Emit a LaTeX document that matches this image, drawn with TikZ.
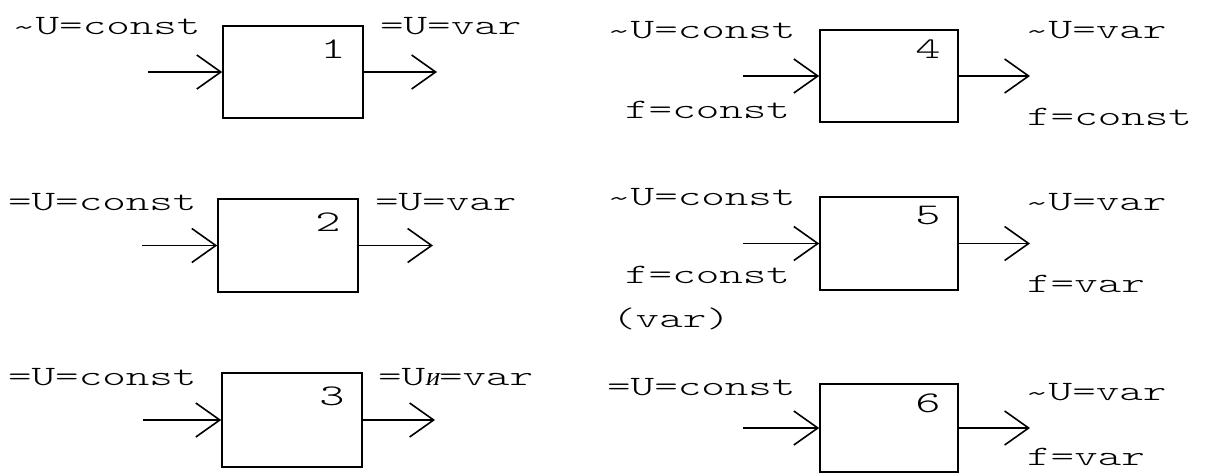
\documentclass[tikz,border=0pt]{standalone}
\usepackage{fontspec}
\newfontfamily\monofont[FakeStretch=1.6]{Latin Modern Mono Light}
\newfontfamily\cyrfont[FakeSlant=0.2]{Liberation Serif}
\newcommand{\mytilde}{\raisebox{-2pt}{\textasciitilde}}
\usetikzlibrary{arrows.meta}
\begin{document}
\begin{tikzpicture}[x=1pt,y=-1pt,
  blk/.style={draw,line width=1.6pt,minimum width=140pt,minimum height=92pt,inner sep=0pt},
  blkr/.style={blk,minimum width=138pt},
  lbl/.style={anchor=base west,inner sep=0pt,font=\monofont\fontsize{28}{28}\selectfont},
  num/.style={anchor=north east,inner sep=0pt,font=\monofont\fontsize{30}{30}\selectfont},
  conn/.style={line width=1.6pt,-{Straight Barb[length=24pt,width=34pt,line width=1.6pt]}}]
\useasboundingbox (0,0) rectangle (1206,474);
% left column
\node[blk] (b1) at (293,72) {};
\node[blk,minimum height=93pt] (b2) at (288,245.5) {};
\node[blk,minimum height=94pt] (b3) at (292,420) {};
% right column
\node[blkr] (b4) at (889,76) {};
\node[blkr,minimum height=93pt] (b5) at (889,243.5) {};
\node[blkr,minimum height=88pt] (b6) at (889,428) {};
% digits
\node[num] (n1) at ([xshift=-18pt,yshift=-14pt]b1.north east) {1};
\node[num] (n2) at ([xshift=-18pt,yshift=-14pt]b2.north east) {2};
\node[num] (n3) at ([xshift=-18pt,yshift=-14pt]b3.north east) {3};
\node[num] (n4) at ([xshift=-18pt,yshift=-10pt]b4.north east) {4};
\node[num] (n5) at ([xshift=-18pt,yshift=-10pt]b5.north east) {5};
\node[num] (n6) at ([xshift=-18pt,yshift=-10pt]b6.north east) {6};
% free ends
\coordinate (i1) at (148,72);  \coordinate (o1) at (437,72);
\coordinate (i2) at (142,245.5); \coordinate (o2) at (433,245.5);
\coordinate (i3) at (143,420); \coordinate (o3) at (435,420);
\coordinate (i4) at (743,76);  \coordinate (o4) at (1030,76);
\coordinate (i5) at (743,243.5); \coordinate (o5) at (1030,243.5);
\coordinate (i6) at (743,428); \coordinate (o6) at (1030,428);
% connectors
\draw[conn] (i1) -- (b1.west); \draw[conn] (b1.east) -- (o1);
\draw[conn] (i2) -- (b2.west); \draw[conn] (b2.east) -- (o2);
\draw[conn] (i3) -- (b3.west); \draw[conn] (b3.east) -- (o3);
\draw[conn] (i4) -- (b4.west); \draw[conn] (b4.east) -- (o4);
\draw[conn] (i5) -- (b5.west); \draw[conn] (b5.east) -- (o5);
\draw[conn] (i6) -- (b6.west); \draw[conn] (b6.east) -- (o6);
% labels left
\node[lbl] (l1a) at (12,34) {\mytilde U=const};
\node[lbl] (l1b) at (380,34) {=U=var};
\node[lbl] (l2a) at (8,210) {=U=const};
\node[lbl] (l2b) at (375,210) {=U=var};
\node[lbl] (l3a) at (8,385) {=U=const};
\node[lbl] (l3b) at (378,385) {=U{\cyrfont\fontsize{26}{26}\selectfont и}=var};
% labels right
\node[lbl] (l4a) at (607,38) {\mytilde U=const};
\node[lbl] (l4b) at (625,118) {f=const};
\node[lbl] (l4c) at (1025,38) {\mytilde U=var};
\node[lbl] (l4d) at (1027,125) {f=const};
\node[lbl] (l5a) at (607,205) {\mytilde U=const};
\node[lbl] (l5b) at (625,283) {f=const};
\node[lbl] (l5c) at (612,327) {(var)};
\node[lbl] (l5d) at (1025,210) {\mytilde U=var};
\node[lbl] (l5e) at (1027,292) {f=var};
\node[lbl] (l6a) at (607,395) {=U=const};
\node[lbl] (l6b) at (1025,400) {\mytilde U=var};
\node[lbl] (l6c) at (1027,465) {f=var};
\end{tikzpicture}
\end{document}
